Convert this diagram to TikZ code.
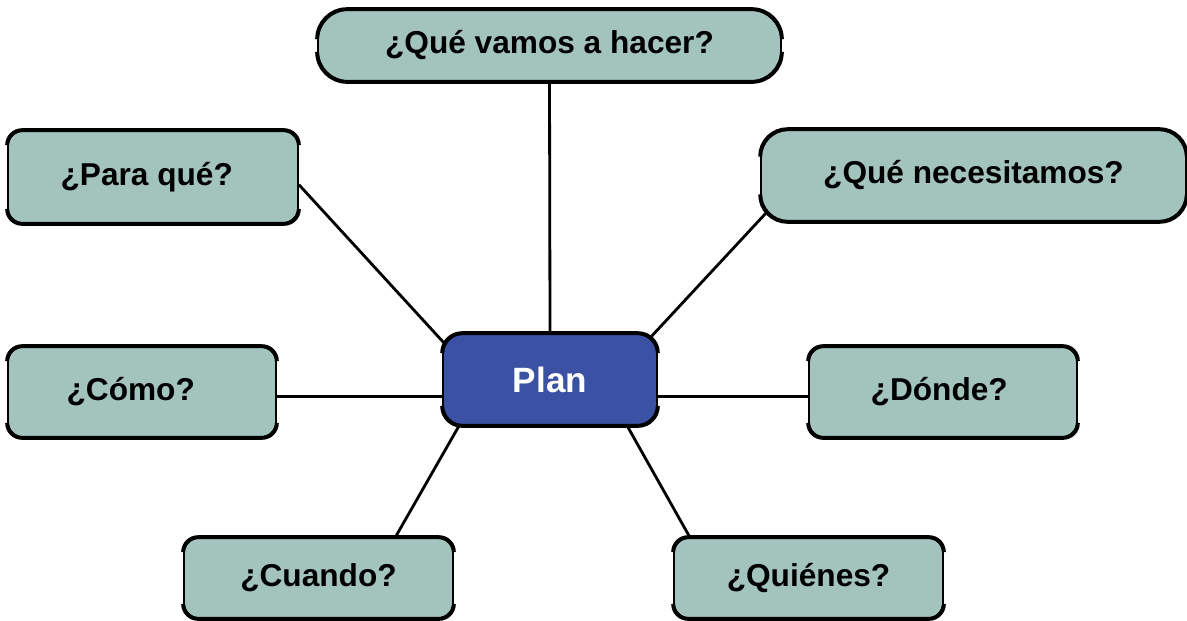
\documentclass[tikz,border=0pt]{standalone}
\usepackage{fontspec}
\setmainfont{Liberation Sans}
\definecolor{boxfill}{HTML}{A3C4BC}
\definecolor{planfill}{HTML}{3B51A3}
\tikzset{
  qbox/.style={draw=black, line width=1pt, fill=boxfill, inner sep=0pt,
    font=\fontsize{18}{20}\selectfont\bfseries, text=black},
  conn/.style={line width=1.6pt, draw=black},
  thickedge/.style={line width=2.2pt, draw=black}
}
\begin{document}
\begin{tikzpicture}
\useasboundingbox (0,0) rectangle (23.74,-12.4);
\node[qbox, rounded corners=0.6cm, minimum width=9.26cm, minimum height=1.42cm] (que) at (10.99,-0.91) {¿Qué vamos a hacer?};
\node[qbox, rounded corners=0.3cm, minimum width=5.8cm, minimum height=1.84cm] (para) at (3.06,-3.54) {¿Para qué?\hspace*{0.25cm}};
\node[qbox, rounded corners=0.55cm, minimum width=8.5cm, minimum height=1.82cm] (nec) at (19.47,-3.51) {¿Qué necesitamos?};
\node[qbox, rounded corners=0.3cm, minimum width=5.36cm, minimum height=1.8cm] (como) at (2.84,-7.84) {¿Cómo?\hspace*{0.45cm}};
\node[qbox, rounded corners=0.4cm, minimum width=4.28cm, minimum height=1.82cm, fill=planfill, text=white, font=\fontsize{20}{22}\selectfont\bfseries] (plan) at (11.0,-7.59) {Plan};
\node[qbox, rounded corners=0.3cm, minimum width=5.36cm, minimum height=1.8cm] (donde) at (18.86,-7.84) {¿Dónde?\hspace*{0.15cm}};
\node[qbox, rounded corners=0.3cm, minimum width=5.38cm, minimum height=1.6cm] (cuando) at (6.37,-11.56) {¿Cuando?};
\node[qbox, rounded corners=0.3cm, minimum width=5.38cm, minimum height=1.6cm] (quien) at (16.17,-11.56) {¿Quiénes?};
% thicker top and bottom edges, following the rounded corners
\foreach \n/\r in {que/0.6,para/0.3,nec/0.55,como/0.3,plan/0.4,donde/0.3,cuando/0.3,quien/0.3}{
  \draw[thickedge, rounded corners=\r cm] ([yshift=-\r cm]\n.north west) -- (\n.north west) -- (\n.north east) -- ([yshift=-\r cm]\n.north east);
  \draw[thickedge, rounded corners=\r cm] ([yshift=\r cm]\n.south west) -- (\n.south west) -- (\n.south east) -- ([yshift=\r cm]\n.south east);
}
% connectors
\draw[conn] (que.south) -- (plan.north);
\draw[conn] (para.-3) -- ([xshift=0.06cm,yshift=-0.22cm]plan.north west);
\draw[conn] ([xshift=0.12cm,yshift=0.18cm]nec.south west) -- ([xshift=-0.18cm,yshift=-0.12cm]plan.north east);
\draw[conn] (como.-2) -- (como.-2 -| plan.west);
\draw[conn] (donde.182) -- (donde.182 -| plan.east);
\draw[conn] (cuando.28) -- (plan.207);
\draw[conn] (quien.161) -- (plan.-31);
\end{tikzpicture}
\end{document}
